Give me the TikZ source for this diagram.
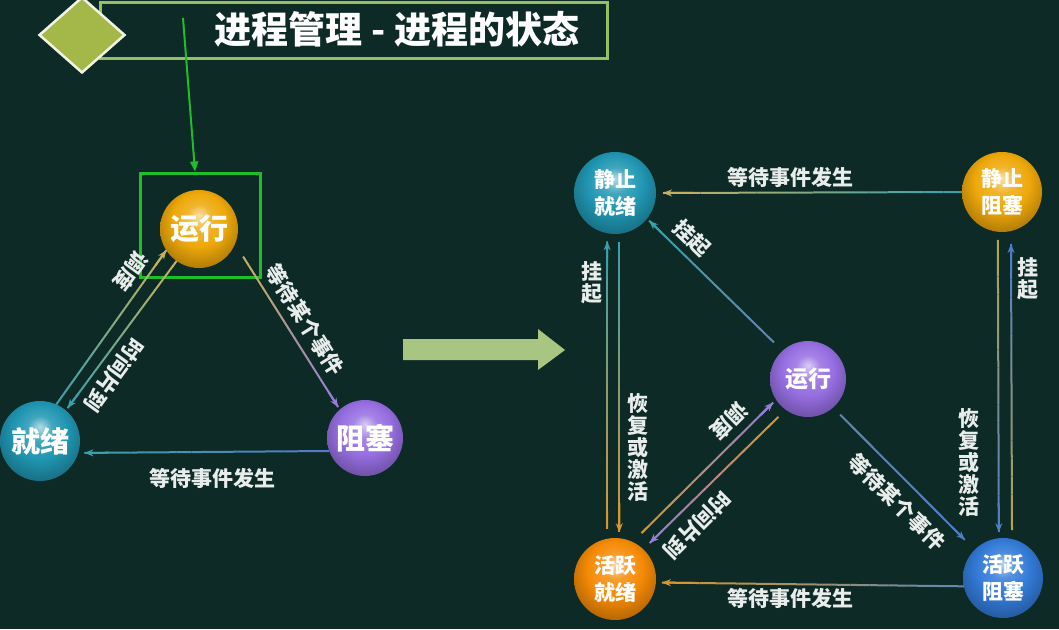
\documentclass[tikz,border=0pt]{standalone}
\usepackage{fontspec}
\setmainfont{Noto Sans CJK SC}
\usetikzlibrary{shapes.geometric,arrows.meta,calc}

\definecolor{bgc}{RGB}{13,42,38}
\definecolor{framec}{RGB}{150,190,100}
\definecolor{markc}{RGB}{164,184,74}
\definecolor{boxc}{RGB}{30,190,40}
\definecolor{arrowc}{RGB}{168,198,130}
\definecolor{lblc}{RGB}{232,236,234}
\definecolor{yellowc}{RGB}{238,168,10}
\definecolor{tealc}{RGB}{32,150,178}
\definecolor{purplec}{RGB}{150,110,225}
\definecolor{orangec}{RGB}{245,138,5}
\definecolor{bluec}{RGB}{50,122,215}
\definecolor{lineteal}{RGB}{60,160,172}
\definecolor{linetan}{RGB}{196,176,96}
\definecolor{lineolive}{RGB}{175,165,85}
\definecolor{linepurple}{RGB}{150,125,215}
\definecolor{lineblue}{RGB}{80,125,195}
\definecolor{linesteel}{RGB}{100,135,175}
\definecolor{lineorange}{RGB}{215,150,50}

\makeatletter
\pgfdeclareradialshading[tikz@ball]{ball}{\pgfqpoint{0bp}{9bp}}{%
  color(0bp)=(tikz@ball!35!white); color(8bp)=(tikz@ball!85!white);
  color(17bp)=(tikz@ball); color(30bp)=(tikz@ball!72!black);
  color(50bp)=(tikz@ball!45!black)}
\makeatother

\newcommand\gradarrow[4]{%
  \foreach \k in {1,...,16}{%
    \pgfmathsetmacro\fa{(\k-1)/16}
    \pgfmathsetmacro\fb{\k/16}
    \pgfmathtruncatemacro\pc{100*(\k-1)/15}
    \draw[conn,#4!\pc!#3] ($#1!\fa!#2$) -- ($#1!\fb!#2$);
  }
  \draw[conn,-{Stealth[length=9pt,width=7pt]},#4] ($#1!0.9!#2$) -- #2;
}

\begin{document}
\begin{tikzpicture}[x=1pt,y=1pt,
    ball/.style={circle,ball color=#1,minimum size=80,inner sep=0pt,outer sep=0pt,text=white,align=center},
    big/.style={font=\fontsize{29}{30}\selectfont\bfseries},
    small/.style={font=\fontsize{21}{27}\selectfont\bfseries},
    lbl/.style={text=lblc,font=\fontsize{21}{22}\selectfont\bfseries,inner sep=0pt,align=center},
    conn/.style={line width=2}]

    \fill[bgc] (0,0) rectangle (1059,-629);
    \useasboundingbox (0,0) rectangle (1059,-629);

    \node[draw=framec,line width=3,minimum width=507,minimum height=56,inner sep=0pt] (bar) at (354,-30) {};
    \node[diamond,fill=markc,draw=white!85!markc,line width=2.5,minimum width=86,minimum height=76,inner sep=0pt] (mark) at (82,-35) {};
    \node[text=white,font=\fontsize{37}{40}\selectfont\bfseries] (title) at (397,-29) {进程管理 - 进程的状态};

    \fill[arrowc] (403,-339) -- (538,-339) -- (538,-329) -- (565,-350) -- (538,-370) -- (538,-360) -- (403,-360) -- cycle;

    \node[ball=yellowc,big,minimum size=78] (run) at (199,-229) {运行};
    \node[ball=tealc,big,minimum size=80] (ready) at (40,-441) {就绪};
    \node[ball=purplec,big,minimum size=76] (block) at (365,-438) {阻塞};
    \node[draw=boxc,line width=3,minimum width=120,minimum height=104] (focus) at (200,-225) {};
    \coordinate (pointer) at (183,-18);
    \draw[-{Triangle[length=10pt,width=8pt]},boxc,line width=2] (pointer) -- ([xshift=-5]focus.north);

    \gradarrow{(ready.66)}{(run.213)}{lineteal}{linetan}
    \gradarrow{(run.235)}{([shift={(50:3)}]ready.50)}{linetan}{lineteal}
    \gradarrow{([shift={(-32:13)}]run.-32)}{([shift={(131:3)}]block.131)}{linetan}{linepurple}
    \gradarrow{(block.200)}{([shift={(-15:6)}]ready.-15)}{lineblue}{lineteal}

    \node[lbl] (l1) at (212,-478) {等待事件发生};
    \node[lbl,rotate=234] (l2) at (131,-271) {调度};
    \node[lbl,rotate=234] (l3) at (114,-375) {时间片到};
    \node[lbl,rotate=-58] (l4) at (305,-320) {等待某个事件};

    \node[ball=tealc,small,minimum size=82] (sready) at (615,-193) {静止\\就绪};
    \node[ball=yellowc,small,minimum size=80] (sblock) at (1002,-192) {静止\\阻塞};
    \node[ball=purplec,font=\fontsize{23}{24}\selectfont\bfseries,minimum size=76] (run2) at (808,-379) {运行};
    \node[ball=orangec,small,minimum size=82] (aready) at (615,-579) {活跃\\就绪};
    \node[ball=bluec,small,minimum size=80] (ablock) at (1003,-578) {活跃\\阻塞};

    \gradarrow{(sblock.west)}{([xshift=7]sready.east)}{lineteal}{linetan}
    \gradarrow{(ablock.192)}{([xshift=6]aready.-5)}{linesteel}{lineorange}
    \gradarrow{([yshift=10]aready.101)}{([yshift=-8]sready.259)}{lineorange}{lineteal}
    \gradarrow{([yshift=-8]sready.276)}{([yshift=6]aready.84)}{lineteal}{lineorange}
    \gradarrow{([yshift=-8]sblock.264)}{([yshift=6]ablock.96)}{lineolive}{lineblue}
    \gradarrow{([yshift=9]ablock.77)}{([yshift=-13]sblock.283)}{lineolive}{lineblue}
    \gradarrow{([shift={(133:12)}]run2.133)}{([shift={(-39:3)}]sready.-39)}{linesteel}{lineteal}
    \gradarrow{([shift={(60:12)}]aready.60)}{([shift={(214:4)}]run2.214)}{lineorange}{linepurple}
    \gradarrow{([shift={(232:10)}]run2.232)}{([shift={(46:9)}]aready.46)}{lineorange}{linepurple}
    \gradarrow{([shift={(-48:10)}]run2.-48)}{([shift={(135:14)}]ablock.135)}{linesteel}{lineblue}

    \node[lbl] (l5) at (790,-177) {等待事件发生};
    \node[lbl] (l6) at (790,-598) {等待事件发生};
    \node[lbl] (l7) at (592,-283) {挂\\起};
    \node[lbl] (l8) at (638,-447) {恢\\复\\或\\激\\活};
    \node[lbl] (l9) at (1028,-279) {挂\\起};
    \node[lbl] (l10) at (969,-462) {恢\\复\\或\\激\\活};
    \node[lbl,rotate=-44] (l11) at (692,-238) {挂起};
    \node[lbl,rotate=225] (l12) at (729,-421) {调度};
    \node[lbl,rotate=225] (l13) at (697,-525) {时间片到};
    \node[lbl,rotate=-45] (l14) at (897,-502) {等待某个事件};
\end{tikzpicture}
\end{document}
